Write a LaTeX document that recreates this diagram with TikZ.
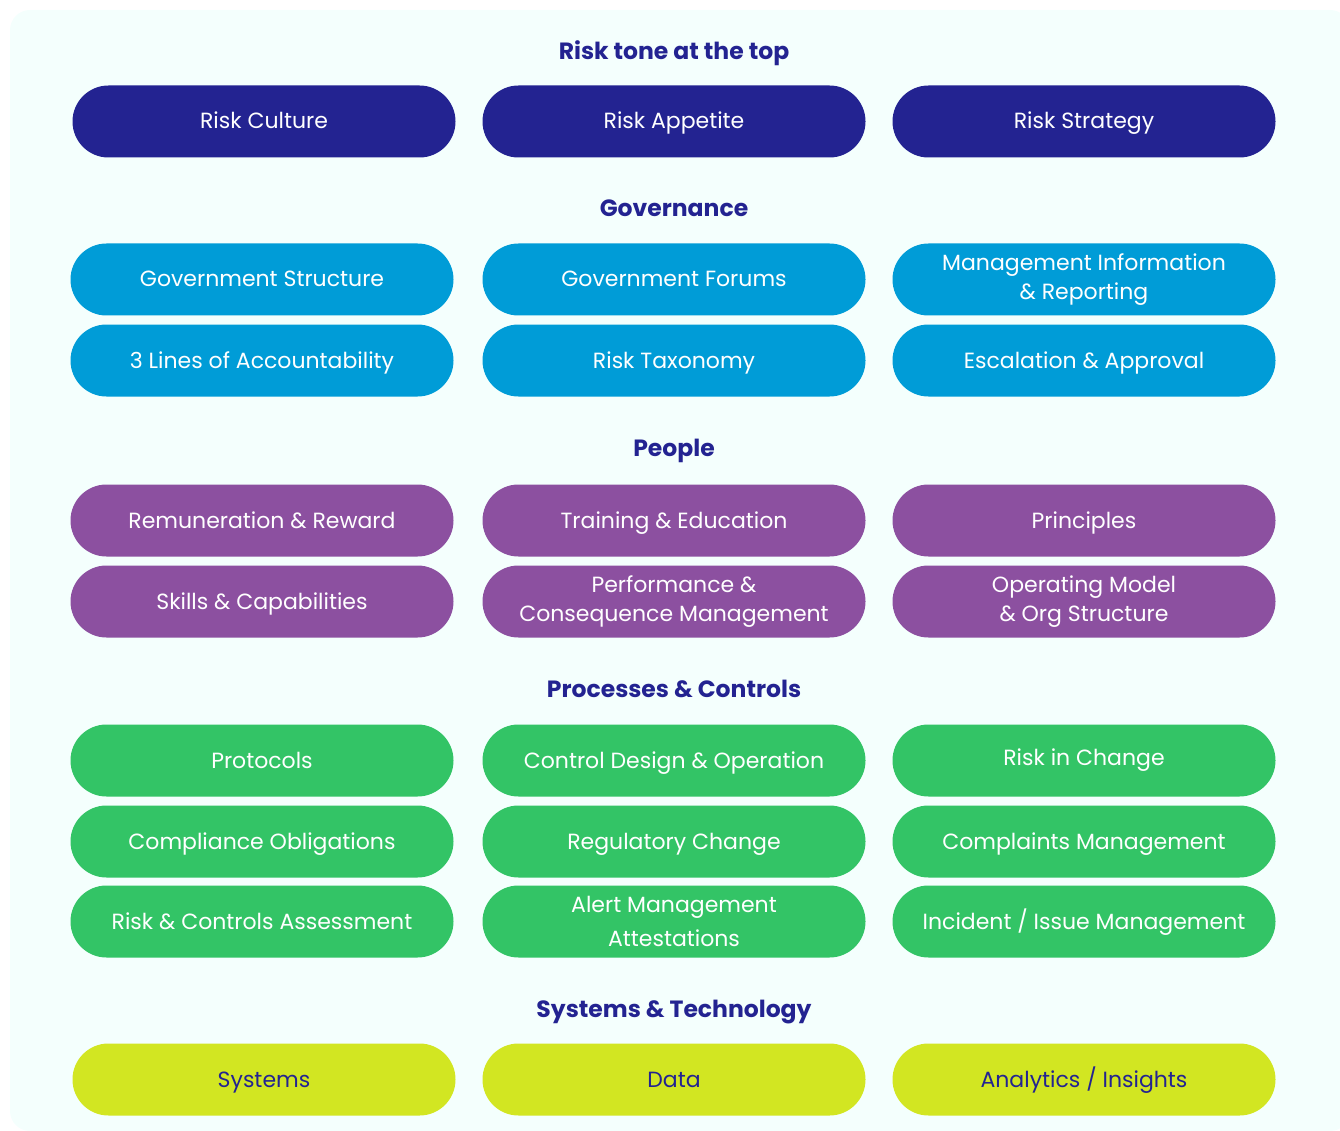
\documentclass[tikz,border=0pt]{standalone}
\usepackage{fontspec}
\setmainfont{Poppins}
\usepackage{tikz}

\definecolor{navy}{HTML}{232391}
\definecolor{govblue}{HTML}{009CD7}
\definecolor{ppurple}{HTML}{8C50A0}
\definecolor{pgreen}{HTML}{33C466}
\definecolor{slime}{HTML}{D2E622}
\definecolor{bgmint}{HTML}{F4FFFD}

\begin{document}
\begin{tikzpicture}[x=1pt,y=-1pt,
	pill/.style={rectangle,rounded corners=36pt,minimum width=383pt,minimum height=72pt,
		inner sep=0pt,align=center,font=\fontsize{22}{29}\selectfont,text=white,
		text height=18pt,text depth=3pt},
	twoline/.style={text height={},text depth={}},
	tone/.style={pill,fill=navy},
	gov/.style={pill,fill=govblue},
	ppl/.style={pill,fill=ppurple},
	proc/.style={pill,fill=pgreen},
	sys/.style={pill,fill=slime,text=navy},
	head/.style={font=\fontsize{23.5}{25}\selectfont\bfseries,text=navy,
		text height=19pt,text depth=3pt,inner sep=0pt}]
	\useasboundingbox (0,0) rectangle (1340,1131);
	\fill[bgmint,rounded corners=20pt] (10,10) rectangle (1350,1131);
	% risk tone
	\node (h1) [head] at (674,52) {Risk tone at the top};
	\node (culture) [tone] at (264,121.5) {Risk Culture};
	\node (appetite) [tone] at (674,121.5) {Risk Appetite};
	\node (strategy) [tone] at (1084,121.5) {Risk Strategy};
	% governance
	\node (h2) [head] at (674,209) {Governance};
	\node (structure) [gov] at (262,279.5) {Government Structure};
	\node (forums) [gov] at (674,279.5) {Government Forums};
	\node (mi) [gov,twoline] at (1084,279.5) {Management Information\\ \& Reporting};
	\node (lines) [gov] at (262,360.5) {3 Lines of Accountability};
	\node (taxonomy) [gov] at (674,360.5) {Risk Taxonomy};
	\node (escalation) [gov] at (1084,360.5) {Escalation \& Approval};
	% people
	\node (h3) [head] at (674,448) {People};
	\node (reward) [ppl] at (262,520.5) {Remuneration \& Reward};
	\node (training) [ppl] at (674,520.5) {Training \& Education};
	\node (principles) [ppl] at (1084,520.5) {Principles};
	\node (skills) [ppl] at (262,601.5) {Skills \& Capabilities};
	\node (performance) [ppl,twoline] at (674,601.5) {Performance \&\\ Consequence Management};
	\node (opmodel) [ppl,twoline] at (1084,601.5) {Operating Model\\ \& Org Structure};
	% processes & controls
	\node (h4) [head] at (674,689) {Processes \& Controls};
	\node (protocols) [proc] at (262,760.5) {Protocols};
	\node (design) [proc] at (674,760.5) {Control Design \& Operation};
	\node (change) [proc,text depth=8pt] at (1084,760.5) {Risk in Change};
	\node (compliance) [proc] at (262,841.5) {Compliance Obligations};
	\node (regulatory) [proc] at (674,841.5) {Regulatory Change};
	\node (complaints) [proc] at (1084,841.5) {Complaints Management};
	\node (assessment) [proc] at (262,921.5) {Risk \& Controls Assessment};
	\node (alert) [proc,twoline,font=\fontsize{22}{34}\selectfont] at (674,921.5) {Alert Management\\ Attestations};
	\node (incident) [proc] at (1084,921.5) {Incident / Issue Management};
	% systems & technology
	\node (h5) [head] at (674,1009) {Systems \& Technology};
	\node (systems) [sys] at (264,1079.5) {Systems};
	\node (data) [sys] at (674,1079.5) {Data};
	\node (analytics) [sys] at (1084,1079.5) {Analytics / Insights};
\end{tikzpicture}
\end{document}
